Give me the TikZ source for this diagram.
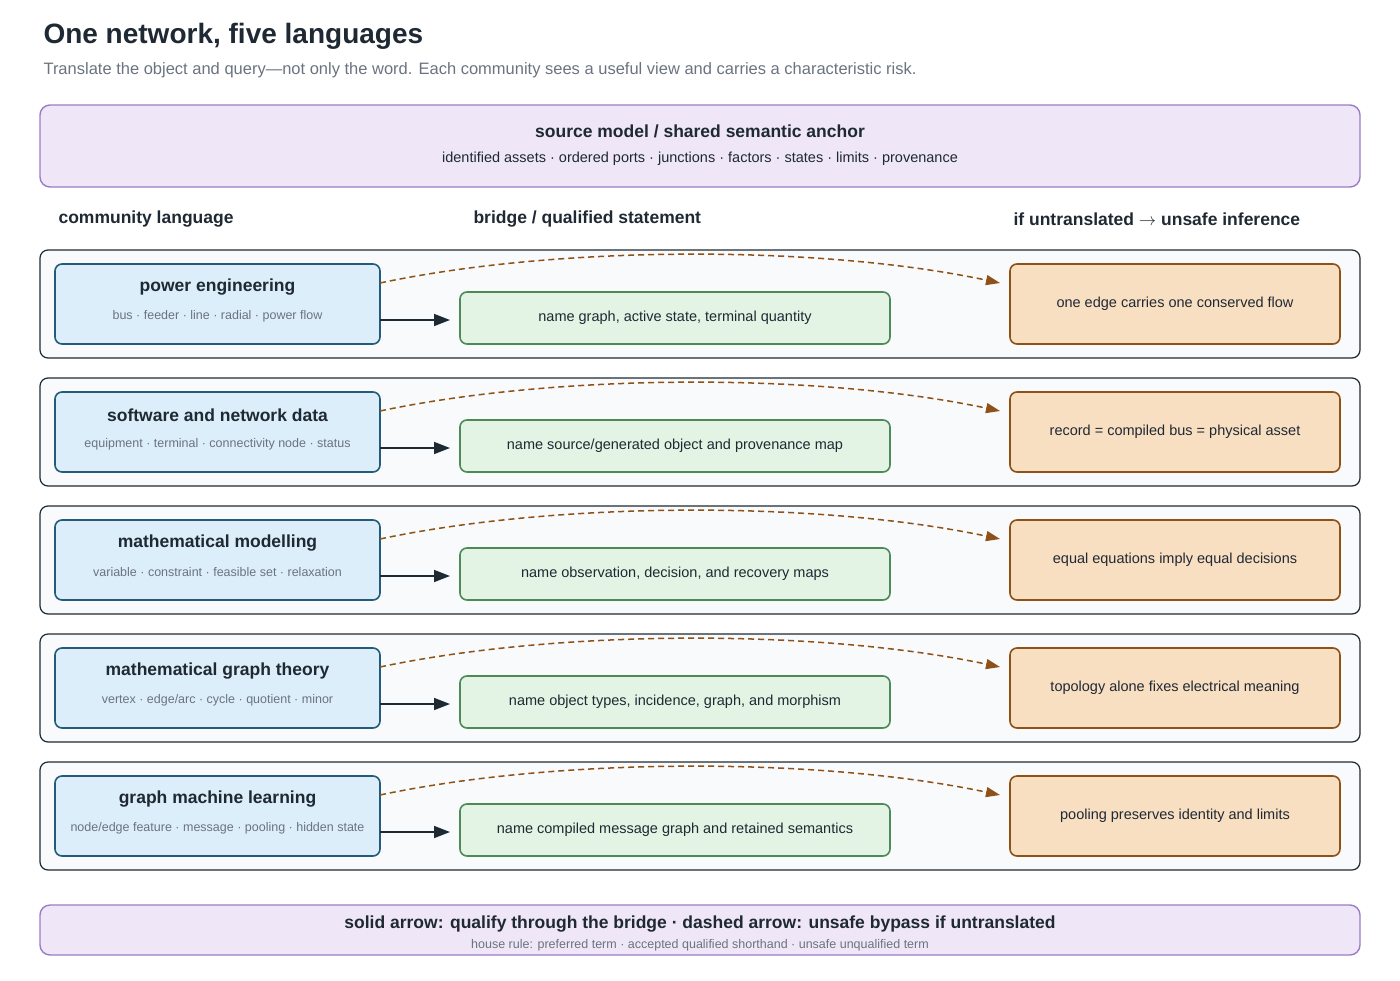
\documentclass[tikz,border=0pt]{standalone}
\usepackage{fontspec}
\setmainfont{Liberation Sans}
\usetikzlibrary{positioning,arrows.meta}
\definecolor{ink}{HTML}{1F2933}
\definecolor{muted}{HTML}{6B7380}
\definecolor{anchorfill}{HTML}{EFE7F7}
\definecolor{anchordraw}{HTML}{9A7CC4}
\definecolor{commfill}{HTML}{DCEEF9}
\definecolor{commdraw}{HTML}{245A7A}
\definecolor{bridgefill}{HTML}{E4F4E4}
\definecolor{bridgedraw}{HTML}{4C8A58}
\definecolor{riskfill}{HTML}{F8DFC2}
\definecolor{riskdraw}{HTML}{8E5117}
\definecolor{rowfill}{HTML}{F8FAFC}
\begin{document}
\begin{tikzpicture}[x=1pt,y=-1pt,
    row/.style={draw=ink,fill=rowfill,rounded corners=8pt,line width=1.2pt,minimum width=1320pt,minimum height=108pt,inner sep=0pt},
    comm/.style={draw=commdraw,fill=commfill,rounded corners=7pt,line width=1.6pt,minimum width=325pt,minimum height=80pt,inner sep=0pt},
    bridge/.style={draw=bridgedraw,fill=bridgefill,rounded corners=7pt,line width=1.6pt,minimum width=430pt,minimum height=52pt,inner sep=0pt,font=\fontsize{14.5}{17}\selectfont,text=ink},
    risk/.style={draw=riskdraw,fill=riskfill,rounded corners=7pt,line width=1.6pt,minimum width=330pt,minimum height=80pt,inner sep=0pt,font=\fontsize{14.5}{17}\selectfont,text=ink},
    band/.style={draw=anchordraw,fill=anchorfill,rounded corners=10pt,line width=1.4pt,minimum width=1320pt,inner sep=0pt},
    hd/.style={font=\bfseries\fontsize{17.5}{21}\selectfont,text=ink,anchor=west},
    qual/.style={-{Triangle[length=16pt,width=12pt]},line width=1.6pt,draw=ink},
    bypass/.style={-{Triangle[length=14pt,width=10pt]},line width=1.5pt,draw=riskdraw,dash pattern=on 6pt off 4pt}]
\useasboundingbox (0,0) rectangle (1400,980);
\node[anchor=west,font=\bfseries\fontsize{28}{34}\selectfont,text=ink] (title) at (40,36) {One network, five languages};
\node[anchor=west,font=\fontsize{16.5}{20}\selectfont,text=muted] (sub) at (40,70) {Translate the object and query---not only the word. Each community sees a useful view and carries a characteristic risk.};
\node[band,minimum height=82pt] (src) at (700,146) {};
\node[font=\bfseries\fontsize{17.5}{21}\selectfont,text=ink] (srct) at (700,131) {source model / shared semantic anchor};
\node[font=\fontsize{14.5}{17}\selectfont,text=ink] (srcs) at (700,159) {identified assets · ordered ports · junctions · factors · states · limits · provenance};
\node[hd] (h1) at (55,219) {community language};
\node[hd] (h2) at (470,219) {bridge / qualified statement};
\node[hd] (h3) at (1010,219) {if untranslated $\rightarrow$ unsafe inference};
\foreach \i/\name/\terms/\brg/\rsk in {
  0/{power engineering}/{bus · feeder · line · radial · power flow}/{name graph, active state, terminal quantity}/{one edge carries one conserved flow},
  1/{software and network data}/{equipment · terminal · connectivity node · status}/{name source/generated object and provenance map}/{record = compiled bus = physical asset},
  2/{mathematical modelling}/{variable · constraint · feasible set · relaxation}/{name observation, decision, and recovery maps}/{equal equations imply equal decisions},
  3/{mathematical graph theory}/{vertex · edge/arc · cycle · quotient · minor}/{name object types, incidence, graph, and morphism}/{topology alone fixes electrical meaning},
  4/{graph machine learning}/{node/edge feature · message · pooling · hidden state}/{name compiled message graph and retained semantics}/{pooling preserves identity and limits}}{
  \pgfmathsetmacro{\top}{250+128*\i}
  \node[row] (row\i) at (700,\top+54) {};
  \node[comm] (comm\i) at (217.5,\top+54) {};
  \node[font=\bfseries\fontsize{17.5}{21}\selectfont,text=ink] (commt\i) at (217.5,\top+37) {\name};
  \node[font=\fontsize{12.5}{15}\selectfont,text=muted] (comms\i) at (217.5,\top+66) {\terms};
  \node[bridge] (brg\i) at (675,\top+68) {\brg};
  \node[risk] (rsk\i) at (1175,\top+54) {\rsk};
  \coordinate (qs\i) at (380,\top+70);
  \coordinate (qe\i) at (450,\top+70);
  \coordinate (bs\i) at (380,\top+33);
  \coordinate (be\i) at (1000,\top+33);
  \draw[qual] (qs\i) -- (qe\i);
  \draw[bypass] (bs\i) .. controls (560,\top-5) and (820,\top-5) .. (be\i);
}
\node[band,minimum height=50pt] (legend) at (700,930) {};
\node[font=\bfseries\fontsize{17.5}{21}\selectfont,text=ink] (legt) at (700,924) {solid arrow: qualify through the bridge · dashed arrow: unsafe bypass if untranslated};
\node[font=\fontsize{12.5}{15}\selectfont,text=muted] (legs) at (700,945) {house rule: preferred term · accepted qualified shorthand · unsafe unqualified term};
\end{tikzpicture}
\end{document}
